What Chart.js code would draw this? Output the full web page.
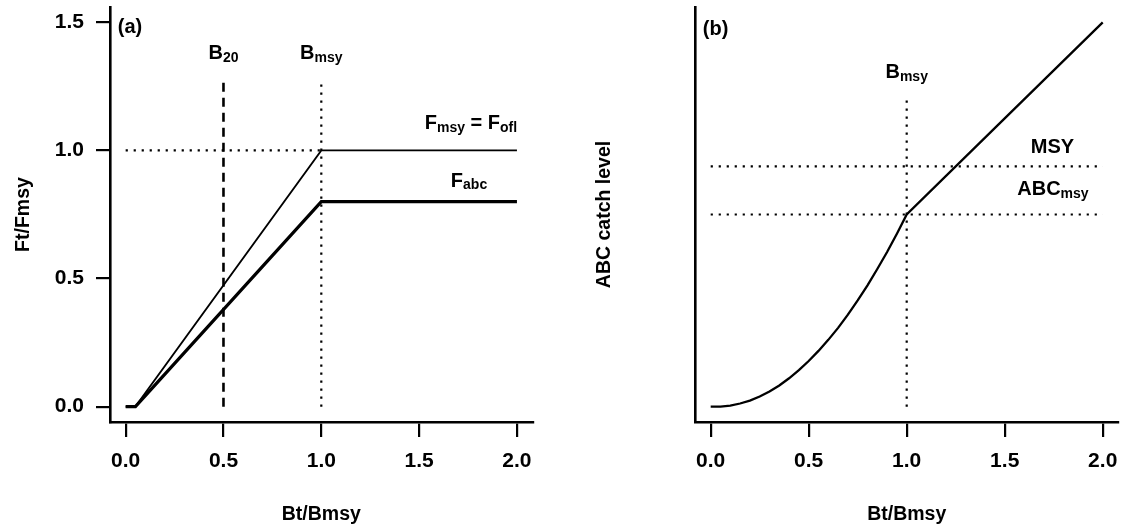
<!DOCTYPE html>
<html>
<head>
<meta charset="utf-8">
<script src="https://cdn.jsdelivr.net/npm/chart.js@4"></script>
<style>
  html, body { margin: 0; padding: 0; background: #fff; }
  #wrap { position: relative; width: 1121px; height: 527px; overflow: hidden; background: #fff; }
  canvas { position: absolute; top: 0; }
  #chartA { left: 0; }
  #chartB { left: 560px; }
</style>
</head>
<body>
<div id="wrap">
  <canvas id="chartA" width="560" height="527"></canvas>
  <canvas id="chartB" width="561" height="527"></canvas>
</div>
<script>
// ---- Panel (a): fishing mortality control rule ----
const ruleB    = [0, 0.05, 1.0, 2.0];   // Bt/Bmsy
const ruleFofl = [0, 0,    1.0, 1.0];   // overfishing limit, Ft/Fmsy
const ruleFabc = [0, 0,    0.8, 0.8];   // ABC fishing rate, Ft/Fmsy
const fmsyLevel = 1.0;
const b20 = 0.5;
const bmsy = 1.0;
const refTopA = 1.27;
const xTicks  = [0, 0.5, 1.0, 1.5, 2.0];
const yTicksA = [0, 0.5, 1.0, 1.5];

// ---- Panel (b): resulting ABC catch ----
const catchB   = [0, 0.05, 0.10, 0.15, 0.20, 0.25, 0.30, 0.35, 0.40, 0.45, 0.50,
                  0.55, 0.60, 0.65, 0.70, 0.75, 0.80, 0.85, 0.90, 0.95, 1.00, 1.50, 2.00];
const catchABC = [0, 0, 0.004, 0.013, 0.025, 0.042, 0.063, 0.088, 0.118, 0.152, 0.19,
                  0.232, 0.278, 0.328, 0.383, 0.442, 0.505, 0.573, 0.644, 0.72, 0.8, 1.2, 1.6];
const msyLevel = 1.0;
const abcMsyLevel = 0.8;
const refTopB = 1.285;

const FONT = '"Liberation Sans", Arial, Helvetica, sans-serif';
const INK = '#000';

const pts = (xs, ys) => xs.map((x, i) => ({ x, y: ys[i] }));

const solid = (data, w) => ({
  data, borderColor: INK, borderWidth: w, pointRadius: 0, tension: 0, fill: false
});
const dotted = (data) => ({
  data, borderColor: INK, borderWidth: 2.2, borderDash: [2.2, 5.8], pointRadius: 0, fill: false
});
const dashed = (data) => ({
  data, borderColor: INK, borderWidth: 2.6, borderDash: [9, 6], pointRadius: 0, fill: false
});

// text with optional subscript pieces: segs = [[text, isSub], ...]
function drawRich(ctx, x, y, segs, align, size) {
  const subSize = 14, shift = 2.5;
  let total = 0;
  const parts = segs.map(([t, sub]) => {
    ctx.font = `bold ${sub ? subSize : size}px ${FONT}`;
    const w = ctx.measureText(t).width;
    total += w;
    return { t, sub, w };
  });
  let cx = align === 'center' ? x - total / 2 : x;
  ctx.textAlign = 'left';
  ctx.textBaseline = 'alphabetic';
  for (const p of parts) {
    ctx.font = `bold ${p.sub ? subSize : size}px ${FONT}`;
    ctx.fillText(p.t, cx, p.sub ? y + shift : y);
    cx += p.w;
  }
}

function notesPlugin(items) {
  return {
    id: 'notes',
    afterDatasetsDraw(chart) {
      const { ctx, scales: { x, y } } = chart;
      ctx.save();
      ctx.fillStyle = INK;
      for (const n of items) {
        drawRich(ctx, x.getPixelForValue(n.x), y.getPixelForValue(n.y), n.segs, n.align || 'center', n.size || 20);
      }
      ctx.restore();
    }
  };
}

const tickFont  = { family: FONT, size: 21, weight: 'bold' };
const titleFont = { family: FONT, size: 19.5, weight: 'bold', lineHeight: 1.2 };

function xScale() {
  return {
    type: 'linear', min: -0.08, max: 2.08,
    afterBuildTicks: s => { s.ticks = xTicks.map(v => ({ value: v })); },
    afterFit: s => { s.height = 105; s.paddingLeft = 0; s.paddingRight = 0; },
    ticks: { color: INK, font: tickFont, padding: 12, maxRotation: 0,
             callback: v => Number(v).toFixed(1) },
    grid: { display: true, drawOnChartArea: false, drawTicks: true, tickLength: 15, color: INK, lineWidth: 2.2 },
    border: { display: true, color: INK, width: 2.6 },
    title: { display: true, text: 'Bt/Bmsy', color: INK, font: titleFont, padding: { top: 0, bottom: 0.5 } }
  };
}

const common = {
  responsive: false,
  animation: false,
  events: [],
  plugins: { legend: { display: false }, tooltip: { enabled: false }, title: { display: false } }
};

// Panel (a)
new Chart(document.getElementById('chartA'), {
  type: 'line',
  data: {
    datasets: [
      solid(pts(ruleB, ruleFofl), 1.8),
      solid(pts(ruleB, ruleFabc), 3.2),
      dotted(pts([0, bmsy], [fmsyLevel, fmsyLevel])),
      dotted(pts([bmsy, bmsy], [0, refTopA])),
      dashed(pts([b20, b20], [0, refTopA]))
    ]
  },
  options: {
    ...common,
    layout: { padding: { left: 0, right: 27.4, top: 7, bottom: 0 } },
    scales: {
      x: xScale(),
      y: {
        type: 'linear', min: -0.06, max: 1.56,
        afterBuildTicks: s => { s.ticks = yTicksA.map(v => ({ value: v })); },
        afterFit: s => { s.width = 110; s.paddingTop = 0; s.paddingBottom = 0; },
        ticks: { color: INK, font: tickFont, padding: 12,
                 callback: v => Number(v).toFixed(1) },
        grid: { display: true, drawOnChartArea: false, drawTicks: true, tickLength: 14, color: INK, lineWidth: 2.2 },
        border: { display: true, color: INK, width: 2.6 },
        title: { display: true, text: 'Ft/Fmsy', color: INK, font: titleFont, padding: { top: 12, bottom: 0 } }
      }
    }
  },
  plugins: [notesPlugin([
    { x: -0.04, y: 1.46, segs: [['(a)']], align: 'left', size: 20 },
    { x: b20, y: 1.357, segs: [['B'], ['20', true]] },
    { x: bmsy, y: 1.357, segs: [['B'], ['msy', true]] },
    { x: 1.765, y: 1.083, segs: [['F'], ['msy', true], [' = F'], ['ofl', true]] },
    { x: 1.755, y: 0.858, segs: [['F'], ['abc', true]] }
  ])]
});

// Panel (b)
new Chart(document.getElementById('chartB'), {
  type: 'line',
  data: {
    datasets: [
      solid(pts(catchB, catchABC), 2.3),
      dotted(pts([0, 2], [msyLevel, msyLevel])),
      dotted(pts([0, 2], [abcMsyLevel, abcMsyLevel])),
      dotted(pts([bmsy, bmsy], [0, refTopB]))
    ]
  },
  options: {
    ...common,
    layout: { padding: { left: 0, right: 2.6, top: 7, bottom: 0 } },
    scales: {
      x: xScale(),
      y: {
        type: 'linear', min: -0.064, max: 1.664,
        afterFit: s => { s.width = 135; s.paddingTop = 0; s.paddingBottom = 0; },
        ticks: { display: false },
        grid: { display: false },
        border: { display: true, color: INK, width: 2.6 },
        title: { display: true, text: 'ABC catch level', color: INK, font: titleFont, padding: { top: 33, bottom: 0 } }
      }
    }
  },
  plugins: [notesPlugin([
    { x: -0.04, y: 1.546, segs: [['(b)']], align: 'left', size: 20 },
    { x: bmsy, y: 1.367, segs: [['B'], ['msy', true]] },
    { x: 1.744, y: 1.055, segs: [['MSY']] },
    { x: 1.746, y: 0.881, segs: [['ABC'], ['msy', true]] }
  ])]
});
</script>
</body>
</html>
